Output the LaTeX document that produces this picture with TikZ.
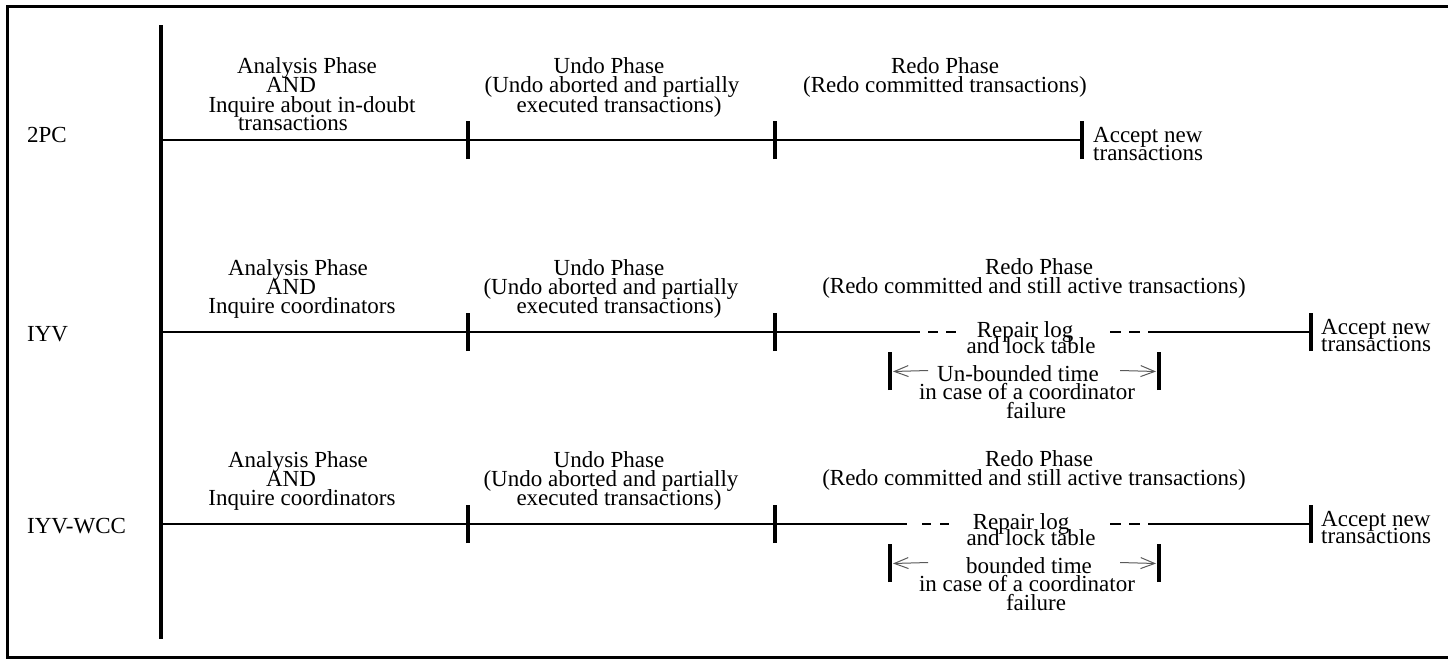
\documentclass[tikz,border=0pt]{standalone}
\usepackage{fontspec}
\setmainfont{Liberation Serif}
\usetikzlibrary{arrows.meta}
\begin{document}
\begin{tikzpicture}[x=1pt,y=-1pt,
  lbl/.style={anchor=base,inner sep=0pt,font=\fontsize{23}{19}\selectfont},
  lblw/.style={lbl,anchor=base west},
  axis/.style={line width=1.3pt},
  tickmark/.style={line width=3.4pt},
  gapdash/.style={line width=1.3pt,dash pattern=on 10pt off 8pt},
  span/.style={black!65,line width=1pt,-{Straight Barb[length=14pt,width=11pt]}},
  frame/.style={line width=3pt},
  bar/.style={line width=4pt}]
\useasboundingbox (0,0) rectangle (1448,659);

% outer frame (open on the right)
\draw[frame] (1448,6) -- (7,6) -- (7,657.5) -- (1448,657.5);

% time axis
\coordinate (vtop) at (161,25);
\coordinate (vbot) at (161,639);
\draw[bar] (vtop) -- (vbot);

% ---------------- 2PC ----------------
\node[lblw] (l2pc) at (27,142) {2PC};
\coordinate (a0) at (161,140);
\coordinate (a1) at (468,140);
\coordinate (a2) at (775,140);
\coordinate (a3) at (1082,140);
\draw[axis] (a0) -- (a3);
\foreach \p in {a1,a2,a3} \draw[tickmark] ([yshift=-19pt]\p) -- ([yshift=19pt]\p);
\node[lbl] (a-an1) at (307,73) {Analysis Phase};
\node[lbl] (a-an2) at (291,92.5) {AND};
\node[lbl] (a-an3) at (312,112) {Inquire about in-doubt};
\node[lbl] (a-an4) at (293,130) {transactions};
\node[lbl] (a-un1) at (609,73) {Undo Phase};
\node[lbl] (a-un2) at (612,92.5) {(Undo aborted and partially};
\node[lbl] (a-un3) at (619,112) {executed transactions)};
\node[lbl] (a-re1) at (945,73) {Redo Phase};
\node[lbl] (a-re2) at (945,92.5) {(Redo committed transactions)};
\node[lblw] (a-ac1) at (1093,142) {Accept new};
\node[lblw] (a-ac2) at (1093,160) {transactions};

% ---------------- IYV ----------------
\node[lblw] (liyv) at (27,341) {IYV};
\coordinate (b0) at (161,332);
\coordinate (b1) at (468,332);
\coordinate (b2) at (775,332);
\coordinate (b3) at (920,332);
\coordinate (b4) at (928,332);
\coordinate (b5) at (956,332);
\coordinate (b6) at (1110,332);
\coordinate (b7) at (1159,332);
\coordinate (b8) at (1311,332);
\draw[axis] (b0) -- (b3);
\draw[gapdash] (b4) -- (b5);
\draw[gapdash,dash pattern=on 11pt off 8pt] (b6) -- (b7);
\draw[axis] (b7) -- (b8);
\foreach \p in {b1,b2,b8} \draw[tickmark] ([yshift=-19pt]\p) -- ([yshift=19pt]\p);
\node[lbl] (b-an1) at (298,275) {Analysis Phase};
\node[lbl] (b-an2) at (291,294) {AND};
\node[lbl] (b-an3) at (302,313) {Inquire coordinators};
\node[lbl] (b-un1) at (609,275) {Undo Phase};
\node[lbl] (b-un2) at (611,294) {(Undo aborted and partially};
\node[lbl] (b-un3) at (619,313) {executed transactions)};
\node[lbl] (b-re1) at (1039,274.5) {Redo Phase};
\node[lbl] (b-re2) at (1034,293) {(Redo committed and still active transactions)};
\node[lbl] (b-rp1) at (1025,337) {Repair log};
\node[lbl] (b-rp2) at (1031,353) {and lock table};
\coordinate (bl) at (890,371);
\coordinate (br) at (1159,371);
\draw[tickmark] ([yshift=-19pt]bl) -- ([yshift=19pt]bl);
\draw[tickmark] ([yshift=-19pt]br) -- ([yshift=19pt]br);
\coordinate (bla) at (928,370.5);
\coordinate (bra) at (1120,370.5);
\draw[span] (bla) -- ([xshift=3pt,yshift=-0.5pt]bl);
\draw[span] (bra) -- ([xshift=-3pt,yshift=-0.5pt]br);
\node[lbl] (b-t1) at (1018,381) {Un-bounded time};
\node[lbl] (b-t2) at (1027,399.5) {in case of a coordinator};
\node[lbl] (b-t3) at (1036,418) {failure};
\node[lblw] (b-ac1) at (1321,334) {Accept new};
\node[lblw] (b-ac2) at (1321,351) {transactions};

% ---------------- IYV-WCC ----------------
\node[lblw] (lwcc) at (27,533) {IYV-WCC};
\coordinate (c0) at (161,524);
\coordinate (c1) at (468,524);
\coordinate (c2) at (775,524);
\coordinate (c3) at (907,524);
\coordinate (c4) at (922,524);
\coordinate (c5) at (949,524);
\coordinate (c6) at (1110,524);
\coordinate (c7) at (1159,524);
\coordinate (c8) at (1311,524);
\draw[axis] (c0) -- (c3);
\draw[gapdash,dash pattern=on 9pt off 9pt] (c4) -- (c5);
\draw[gapdash,dash pattern=on 11pt off 8pt] (c6) -- (c7);
\draw[axis] (c7) -- (c8);
\foreach \p in {c1,c2,c8} \draw[tickmark] ([yshift=-19pt]\p) -- ([yshift=19pt]\p);
\node[lbl] (c-an1) at (298,467) {Analysis Phase};
\node[lbl] (c-an2) at (291,486) {AND};
\node[lbl] (c-an3) at (302,505) {Inquire coordinators};
\node[lbl] (c-un1) at (609,467) {Undo Phase};
\node[lbl] (c-un2) at (611,486) {(Undo aborted and partially};
\node[lbl] (c-un3) at (619,505) {executed transactions)};
\node[lbl] (c-re1) at (1039,466.5) {Redo Phase};
\node[lbl] (c-re2) at (1034,485) {(Redo committed and still active transactions)};
\node[lbl] (c-rp1) at (1021,529) {Repair log};
\node[lbl] (c-rp2) at (1031,545) {and lock table};
\coordinate (cl) at (890,563);
\coordinate (cr) at (1159,563);
\draw[tickmark] ([yshift=-19pt]cl) -- ([yshift=19pt]cl);
\draw[tickmark] ([yshift=-19pt]cr) -- ([yshift=19pt]cr);
\coordinate (cla) at (928,562.5);
\coordinate (cra) at (1120,562.5);
\draw[span] (cla) -- ([xshift=3pt,yshift=-0.5pt]cl);
\draw[span] (cra) -- ([xshift=-3pt,yshift=-0.5pt]cr);
\node[lbl] (c-t1) at (1029,573) {bounded time};
\node[lbl] (c-t2) at (1027,591.5) {in case of a coordinator};
\node[lbl] (c-t3) at (1036,610) {failure};
\node[lblw] (c-ac1) at (1321,526) {Accept new};
\node[lblw] (c-ac2) at (1321,543) {transactions};
\end{tikzpicture}
\end{document}
